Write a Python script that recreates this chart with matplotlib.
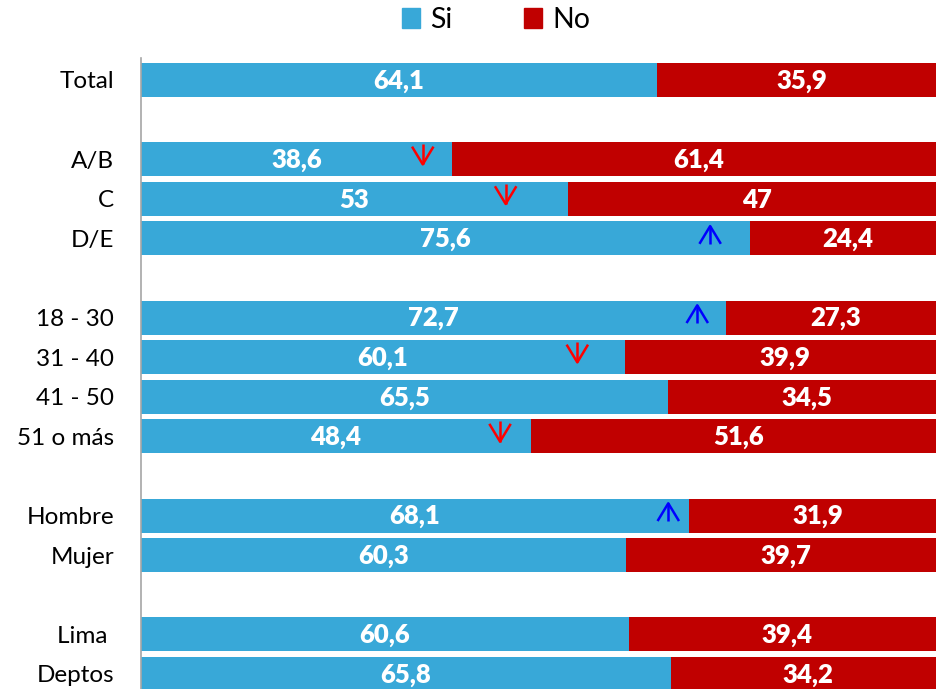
import matplotlib
matplotlib.use("Agg")
import matplotlib.pyplot as plt
import numpy as np
from matplotlib.patches import Patch

plt.rcParams['font.family'] = ['Lato', 'DejaVu Sans']

categories = ["Total", "", "A/B", "C", "D/E", "", "18 - 30", "31 - 40", "41 - 50",
              "51 o más", "", "Hombre", "Mujer", "", "Lima ", "Deptos"]
si_values = [64.1, None, 38.6, 53, 75.6, None, 72.7, 60.1, 65.5, 48.4, None, 68.1, 60.3, None, 60.6, 65.8]
no_values = [35.9, None, 61.4, 47, 24.4, None, 27.3, 39.9, 34.5, 51.6, None, 31.9, 39.7, None, 39.4, 34.2]
si_labels = ["64,1", "", "38,6", "53", "75,6", "", "72,7", "60,1", "65,5", "48,4", "", "68,1", "60,3", "", "60,6", "65,8"]
no_labels = ["35,9", "", "61,4", "47", "24,4", "", "27,3", "39,9", "34,5", "51,6", "", "31,9", "39,7", "", "39,4", "34,2"]
# significance arrows: (row label, direction, x position in data units)
arrows = [("A/B", "down", 35.0), ("C", "down", 45.3), ("D/E", "up", 70.7),
          ("18 - 30", "up", 69.1), ("31 - 40", "down", 54.2),
          ("51 o más", "down", 44.6), ("Hombre", "up", 65.5)]

BLUE = "#38A8D8"
RED = "#C00000"

W, H = 936, 689
fig = plt.figure(figsize=(W/100, H/100), dpi=100)
ax_left = 141 / W
ax_right = 946 / W
ax_top = 58 / H
ax = fig.add_axes([ax_left, 0, ax_right - ax_left, 1 - ax_top])

row_px = 39.6
y0_px = 80
ymin = (58 - y0_px) / row_px
ymax = (689 - y0_px) / row_px
ax.set_ylim(ymax, ymin)
ax.set_xlim(0, 100)

idx = np.arange(len(categories))
bh = 0.86
for i in idx:
    s, n = si_values[i], no_values[i]
    if s is None:
        continue
    ax.barh(i, s, height=bh, color=BLUE, left=0)
    ax.barh(i, n, height=bh, color=RED, left=s)
    ax.text(s/2, i + 0.02, si_labels[i], ha='center', va='center', color='white',
            fontsize=18.5, fontweight='heavy')
    ax.text(s + n/2, i + 0.02, no_labels[i], ha='center', va='center', color='white',
            fontsize=18.5, fontweight='heavy')

hw = 1.25   # half head width (x units)
hl = 0.42   # head length (rows)
for lab, d, xp in arrows:
    i = categories.index(lab)
    if d == "down":
        top, tip = i - 0.38, i + 0.13
        col = "#FF0000"
        ax.plot([xp, xp], [top, tip], color=col, lw=1.8, solid_capstyle='butt')
        ax.plot([xp - hw, xp, xp + hw], [tip - hl, tip, tip - hl], color=col, lw=1.8)
    else:
        tip, bot = i - 0.31, i + 0.13
        col = "#0000FF"
        ax.plot([xp, xp], [tip, bot], color=col, lw=1.8, solid_capstyle='butt')
        ax.plot([xp - hw, xp, xp + hw], [tip + hl, tip, tip + hl], color=col, lw=1.8)

ax.set_yticks(idx)
ax.set_yticklabels(categories, fontsize=17.5)
ax.tick_params(axis='y', length=0, pad=19.5)
ax.set_xticks([])
for sp in ['top', 'right', 'bottom']:
    ax.spines[sp].set_visible(False)
ax.spines['left'].set_color('#A6A6A6')
ax.spines['left'].set_linewidth(1.2)

handles = [Patch(color=BLUE, label="Si"), Patch(color=RED, label="No")]
fig.legend(handles=handles, loc='center', bbox_to_anchor=(496/W, 1 - 20/H), ncol=2,
           frameon=False, fontsize=20.5, handlelength=0.65, handleheight=0.65,
           handletextpad=0.35, columnspacing=2.5)

fig.savefig("out.png", dpi=100)
